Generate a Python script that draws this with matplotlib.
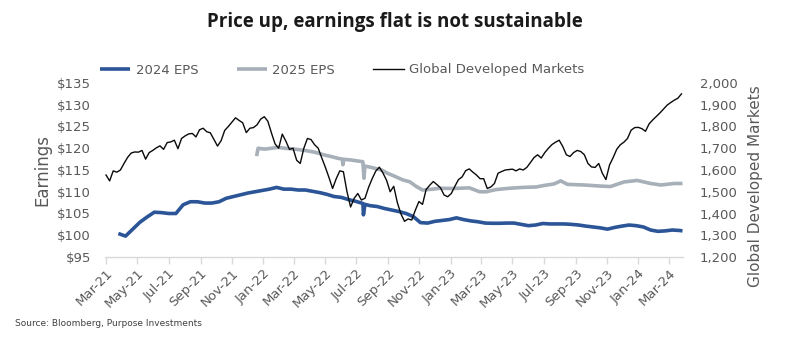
import matplotlib
matplotlib.use("Agg")
import matplotlib.pyplot as plt
import matplotlib.dates as mdates
from matplotlib.ticker import FuncFormatter, FixedLocator
import pandas as pd

# ---------------- data ----------------
index_start = "2021-03-01"   # weekly observations of the index
index_values = [
    1577, 1550, 1596, 1590, 1600, 1630, 1658, 1678, 1683, 1682,
    1690, 1650, 1680, 1690, 1702, 1711, 1695, 1726, 1729, 1737,
    1698, 1745, 1757, 1766, 1768, 1752, 1785, 1792, 1776, 1771,
    1740, 1710, 1735, 1782, 1800, 1820, 1840, 1828, 1817, 1772,
    1792, 1795, 1808, 1834, 1845, 1824, 1770, 1720, 1700, 1765,
    1733, 1695, 1700, 1645, 1630, 1700, 1745, 1740, 1716, 1700,
    1655, 1612, 1565, 1515, 1560, 1596, 1592, 1500, 1430, 1470,
    1492, 1462, 1470, 1520, 1560, 1595, 1613, 1586, 1553, 1500,
    1525, 1450, 1398, 1364, 1375, 1370, 1415, 1455, 1442, 1510,
    1530, 1547, 1533, 1518, 1485, 1477, 1492, 1525, 1556, 1568,
    1597, 1605, 1590, 1577, 1560, 1560, 1515, 1522, 1538, 1585,
    1593, 1600, 1602, 1604, 1596, 1605, 1600, 1612, 1634, 1657,
    1670, 1655, 1680, 1700, 1717, 1728, 1737, 1708, 1670, 1662,
    1680, 1690, 1685, 1670, 1630, 1614, 1612, 1630, 1585, 1556,
    1623, 1657, 1695, 1716, 1728, 1745, 1783, 1795, 1796, 1790,
    1778, 1812, 1830, 1846, 1862, 1880, 1898, 1910, 1921, 1930,
    1950,
]

eps24_dates = [
    "2021-03-25", "2021-04-08", "2021-04-22", "2021-05-06", "2021-05-20",
    "2021-06-03", "2021-06-17", "2021-07-01", "2021-07-15", "2021-07-29",
    "2021-08-12", "2021-08-26", "2021-09-09", "2021-09-23", "2021-10-07",
    "2021-10-21", "2021-11-04", "2021-11-18", "2021-12-02", "2021-12-16",
    "2021-12-30", "2022-01-13", "2022-01-27", "2022-02-10", "2022-02-24",
    "2022-03-10", "2022-03-24", "2022-04-07", "2022-04-21", "2022-05-05",
    "2022-05-19", "2022-06-02", "2022-06-16", "2022-06-30", "2022-07-14",
    "2022-07-15", "2022-07-18", "2022-07-28", "2022-08-11", "2022-08-25",
    "2022-09-08", "2022-09-22", "2022-10-06", "2022-10-20", "2022-11-03",
    "2022-11-17", "2022-12-01", "2022-12-15", "2022-12-29", "2023-01-12",
    "2023-01-26", "2023-02-09", "2023-02-23", "2023-03-09", "2023-03-23",
    "2023-04-06", "2023-04-20", "2023-05-04", "2023-05-18", "2023-06-01",
    "2023-06-15", "2023-06-29", "2023-07-13", "2023-07-27", "2023-08-10",
    "2023-08-24", "2023-09-07", "2023-09-21", "2023-10-05", "2023-10-19",
    "2023-11-02", "2023-11-16", "2023-11-30", "2023-12-14", "2023-12-28",
    "2024-01-11", "2024-01-25", "2024-02-08", "2024-02-22", "2024-03-07",
    "2024-03-21", "2024-03-27",
]
eps24_values = [
    100.4, 99.8, 101.4, 103.0, 104.2,
    105.3, 105.2, 105.0, 105.0, 107.0,
    107.7, 107.7, 107.4, 107.4, 107.7,
    108.5, 108.9, 109.3, 109.7, 110.0,
    110.3, 110.6, 111.0, 110.6, 110.6,
    110.4, 110.4, 110.1, 109.8, 109.4,
    108.9, 108.7, 108.2, 107.8, 107.3,
    104.7, 107.1, 106.8, 106.6, 106.15,
    105.8, 105.45, 105.0, 104.3, 102.9,
    102.8, 103.2, 103.4, 103.6, 104.0,
    103.6, 103.3, 103.1, 102.8, 102.75,
    102.75, 102.8, 102.8, 102.5, 102.2,
    102.35, 102.7, 102.6, 102.6, 102.6,
    102.5, 102.35, 102.1, 101.9, 101.7,
    101.4, 101.8, 102.1, 102.35, 102.2,
    101.9, 101.2, 100.9, 101.0, 101.2,
    101.1, 101.0,
]

eps25_dates = [
    "2021-12-19", "2021-12-22", "2022-01-04", "2022-01-17", "2022-01-30",
    "2022-02-12", "2022-03-03", "2022-03-23", "2022-04-11", "2022-04-30",
    "2022-05-13", "2022-05-26", "2022-06-04", "2022-06-05", "2022-06-07",
    "2022-06-21", "2022-07-04", "2022-07-14", "2022-07-16", "2022-07-18",
    "2022-07-24", "2022-08-06", "2022-08-19", "2022-08-31", "2022-09-13",
    "2022-09-30", "2022-10-13", "2022-10-26", "2022-11-07", "2022-11-27",
    "2022-12-10", "2023-01-05", "2023-01-18", "2023-02-06", "2023-02-26",
    "2023-03-11", "2023-03-30", "2023-04-25", "2023-05-21", "2023-06-16",
    "2023-07-02", "2023-07-21", "2023-08-03", "2023-08-16", "2023-09-18",
    "2023-10-20", "2023-11-08", "2023-12-04", "2023-12-30", "2024-01-25",
    "2024-02-14", "2024-03-11", "2024-03-27",
]
eps25_values = [
    118.2, 120.0, 119.8, 120.0, 120.2,
    120.0, 119.8, 119.5, 119.1, 118.45,
    118.1, 117.7, 117.5, 116.2, 117.45,
    117.3, 117.07, 116.9, 113.1, 115.9,
    115.76, 115.4, 115.0, 114.24, 113.6,
    112.7, 112.3, 111.2, 110.4, 110.6,
    110.8, 110.75, 110.8, 110.9, 110.0,
    110.0, 110.5, 110.8, 111.0, 111.1,
    111.45, 111.8, 112.5, 111.7, 111.55,
    111.3, 111.2, 112.25, 112.6, 111.9,
    111.55, 111.9, 111.9,
]

left_ticks = [95, 100, 105, 110, 115, 120, 125, 130, 135]
right_ticks = [1200, 1300, 1400, 1500, 1600, 1700, 1800, 1900, 2000]

# ---------------- style ----------------
BLUE = "#2B5597"
GREY = "#A7AFB8"
BLACK = "#0a0a0a"
TXT = "#595959"
plt.rcParams["font.family"] = ["DejaVu Sans"]

W, H = 801, 340
fig = plt.figure(figsize=(W / 100, H / 100), dpi=100)
fig.patch.set_facecolor("white")

x0, x1, ytop, ybot = 105, 683, 83, 257
ax = fig.add_axes([x0 / W, 1 - ybot / H, (x1 - x0) / W, (ybot - ytop) / H])
ax2 = ax.twinx()

idx_dates = pd.date_range(index_start, periods=len(index_values), freq="7D")
d24 = pd.to_datetime(eps24_dates)
d25 = pd.to_datetime(eps25_dates)

l1, = ax.plot(d24, eps24_values, color=BLUE, lw=2.6, solid_capstyle="butt", label="2024 EPS")
l2, = ax.plot(d25, eps25_values, color=GREY, lw=2.6, solid_capstyle="butt", label="2025 EPS")
l3, = ax2.plot(idx_dates, index_values, color=BLACK, lw=1.0, label="Global Developed Markets")

ax.set_ylim(left_ticks[0], left_ticks[-1])
ax2.set_ylim(right_ticks[0], right_ticks[-1])
ax.yaxis.set_major_locator(FixedLocator(left_ticks))
ax2.yaxis.set_major_locator(FixedLocator(right_ticks))
ax.yaxis.set_major_formatter(FuncFormatter(lambda v, p: f"${v:.0f}"))
ax2.yaxis.set_major_formatter(FuncFormatter(lambda v, p: f"{v:,.0f}"))

ax.set_xlim(pd.Timestamp("2021-02-27"), pd.Timestamp("2024-03-28"))
ax.xaxis.set_major_locator(mdates.MonthLocator(bymonth=[1, 3, 5, 7, 9, 11]))
ax.xaxis.set_major_formatter(mdates.DateFormatter("%b-%y"))

for a in (ax, ax2):
    for s in ("top", "left", "right"):
        a.spines[s].set_visible(False)
ax2.spines["bottom"].set_visible(False)
ax.spines["bottom"].set_color("#D9D9D9")
ax.spines["bottom"].set_linewidth(1.0)

ax.tick_params(axis="y", length=0, labelsize=9.5, labelcolor=TXT, pad=10)
ax2.tick_params(axis="y", length=0, labelsize=9.5, labelcolor=TXT, pad=12)
ax.tick_params(axis="x", length=5, width=1, color="#D9D9D9", labelsize=9.5,
               labelcolor=TXT, pad=2)
for lab in ax.get_xticklabels():
    lab.set_rotation(45)
    lab.set_ha("right")
    lab.set_rotation_mode("anchor")

ax.set_ylabel("Earnings", fontsize=12, color=TXT, labelpad=4)
ax2.set_ylabel("Global Developed Markets", fontsize=11, color=TXT)
ax2.yaxis.set_label_coords(1.112, 0.41)

fig.text(0.493, 1 - 22 / H, "Price up, earnings flat is not sustainable",
         ha="center", va="center", fontsize=13.5, fontweight="bold",
         color="#1a1a1a", family=["Open Sans", "DejaVu Sans"])

fig.legend([l1, l2, l3], ["2024 EPS", "2025 EPS", "Global Developed Markets"],
           loc="center left", bbox_to_anchor=(100 / W, 1 - 70 / H), ncol=3,
           frameon=False, fontsize=9.5, handlelength=2.3, handletextpad=0.4,
           columnspacing=2.9, labelcolor=TXT, borderpad=0, borderaxespad=0)

fig.text(15 / W, 1 - 324 / H, "Source: Bloomberg, Purpose Investments",
         ha="left", va="center", fontsize=6.5, color="#404040")

fig.savefig("out.png", dpi=100, facecolor="white")
